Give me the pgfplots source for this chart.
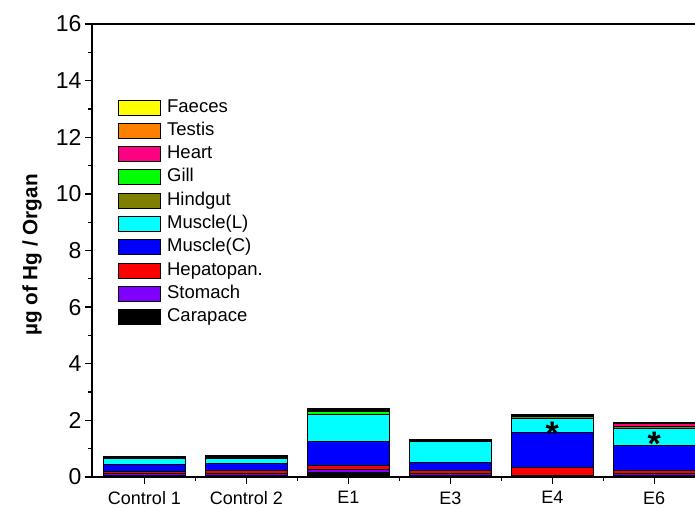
\documentclass[border=0pt]{standalone}
\usepackage{pgfplots}
\usepackage{pgfplotstable}
\pgfplotsset{compat=1.18}
\usepackage{fontspec}
\setmainfont{Liberation Sans}

\definecolor{cFaeces}{HTML}{FFFF00}
\definecolor{cTestis}{HTML}{FF8000}
\definecolor{cHeart}{HTML}{FF0080}
\definecolor{cGill}{HTML}{00FF00}
\definecolor{cHindgut}{HTML}{808000}
\definecolor{cMuscL}{HTML}{00FFFF}
\definecolor{cMuscC}{HTML}{0000FF}
\definecolor{cHepato}{HTML}{FF0000}
\definecolor{cStomach}{HTML}{8000FF}
\definecolor{cCarapace}{HTML}{000000}

% mercury per organ, bottom to top of each stack
\pgfplotstableread{
x carapace stomach hepato muscC muscL hindgut gill heart testis faeces
0 0.06 0.05 0.07 0.26 0.21 0.04 0.02 0.02 0.01 0.00
1 0.06 0.06 0.11 0.23 0.18 0.05 0.03 0.03 0.01 0.01
2 0.15 0.12 0.12 0.87 0.94 0.02 0.10 0.04 0.03 0.02
3 0.07 0.05 0.11 0.27 0.75 0.03 0.02 0.01 0.01 0.01
4 0.03 0.02 0.27 1.26 0.48 0.08 0.03 0.02 0.02 0.01
5 0.06 0.06 0.12 0.89 0.59 0.05 0.03 0.09 0.02 0.02
}\hgdata

\begin{document}
\begin{tikzpicture}
\begin{axis}[
  at={(0,0)}, anchor=south west,
  scale only axis, width=603pt, height=453pt,
  ybar stacked, bar width=0.804,
  xmin=-0.515, xmax=5.40, ymin=0, ymax=16,
  axis x line*=box, axis y line*=left,
  xtick pos=bottom, ytick pos=left,
  axis line style={line width=1.5pt},
  xtick={0,...,5},
  xticklabels={Control 1,Control 2,E1,E3,E4,E6},
  minor xtick={0.5,1.5,2.5,3.5,4.5},
  ytick={0,2,...,16}, minor ytick={1,3,...,15},
  tick align=outside,
  major tick length=7pt, minor tick length=4pt,
  every tick/.style={black, line width=1.3pt},
  tick label style={/pgf/number format/assume math mode=true},
  yticklabel style={font=\fontsize{23}{25}\selectfont},
  xticklabel style={font=\fontsize{18}{20}\selectfont, yshift=-4pt},
  ylabel={\textbf{µg of Hg / Organ}},
  ylabel style={font=\fontsize{20.7}{23}\selectfont, at={(axis description cs:-0.0995,0.49)}, anchor=center},
  every axis plot/.append style={draw=black, line width=1pt},
  reverse legend,
  legend cell align=left,
  legend style={draw=none, fill=none, inner sep=0pt,
    at={(axis description cs:0.043,0.837)}, anchor=north west,
    font=\fontsize{18.5}{20}\selectfont,
    row sep=4.3pt,
    nodes={text height=13pt, text depth=4pt, inner sep=1pt}},
  legend image code/.code={\draw[#1, line width=1pt] (0pt,-7.5pt) rectangle (42pt,7.5pt);
    \path (47pt,0pt);},
  after end axis/.code={
    \node[text=black, font=\fontsize{34}{34}\selectfont\bfseries, inner sep=0pt, anchor=base] at (axis cs:4,1.12) {*};
    \node[text=black, font=\fontsize{34}{34}\selectfont\bfseries, inner sep=0pt, anchor=base] at (axis cs:5,0.76) {*};
  },
]
\addplot[fill=cCarapace] table[x=x, y=carapace] {\hgdata};
\addplot[fill=cStomach] table[x=x, y=stomach] {\hgdata};
\addplot[fill=cHepato] table[x=x, y=hepato] {\hgdata};
\addplot[fill=cMuscC] table[x=x, y=muscC] {\hgdata};
\addplot[fill=cMuscL] table[x=x, y=muscL] {\hgdata};
\addplot[fill=cHindgut] table[x=x, y=hindgut] {\hgdata};
\addplot[fill=cGill] table[x=x, y=gill] {\hgdata};
\addplot[fill=cHeart] table[x=x, y=heart] {\hgdata};
\addplot[fill=cTestis] table[x=x, y=testis] {\hgdata};
\addplot[fill=cFaeces] table[x=x, y=faeces] {\hgdata};
\legend{Carapace,Stomach,Hepatopan.,Muscle(C),Muscle(L),Hindgut,Gill,Heart,Testis,Faeces}
\end{axis}
\pgfresetboundingbox
\path[use as bounding box] (-92pt,-31pt) rectangle (603pt,477pt);
\end{tikzpicture}
\end{document}
